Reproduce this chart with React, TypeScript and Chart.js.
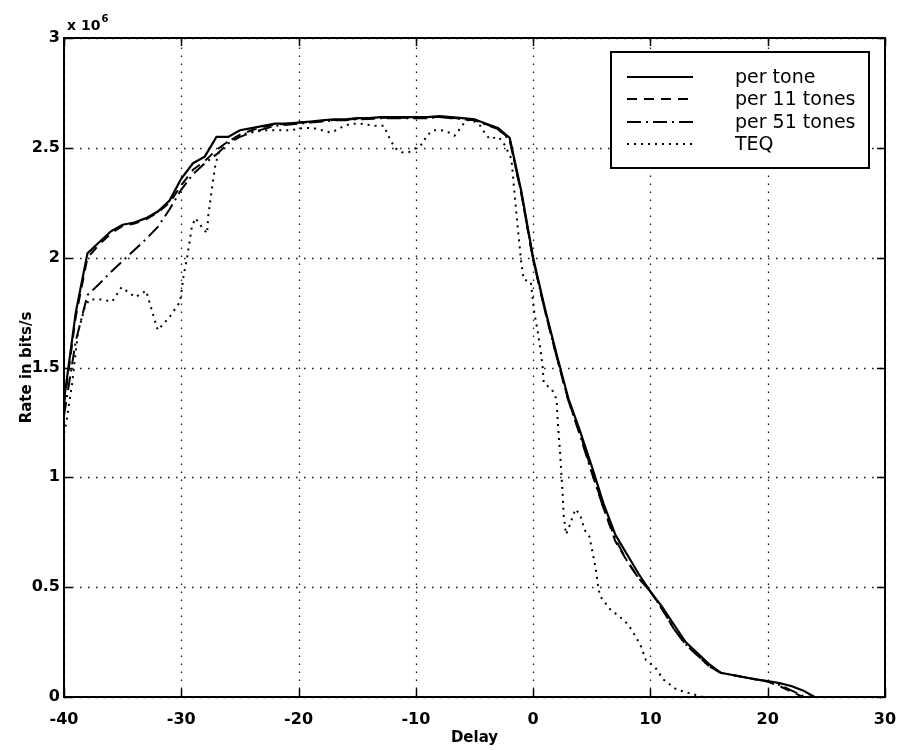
import React, { useEffect, useRef } from "react";
import { Chart, registerables } from "chart.js";

Chart.register(...registerables);

// ---- data (rates in units of 10^6 bits/s) ----
const delays = [
  -40, -39, -38, -37, -36, -35, -34, -33, -32, -31, -30, -29, -28, -27, -26, -25, -24, -23, -22, -21,
  -20, -19, -18, -17, -16, -15, -14, -13, -12, -11, -10, -9, -8, -7, -6, -5, -4, -3, -2, -1,
  0, 1, 2, 3, 4, 5, 6, 7, 8, 9, 10, 11, 12, 13, 14, 15, 16, 17, 18, 19,
  20, 21, 22, 23, 24, 25, 26, 27, 28, 29, 30,
];

const perTone = [
  1.35, 1.75, 2.02, 2.07, 2.12, 2.15, 2.16, 2.18, 2.21, 2.26, 2.36, 2.43, 2.46, 2.55, 2.55, 2.58, 2.59, 2.6, 2.61, 2.61,
  2.615, 2.62, 2.625, 2.63, 2.63, 2.635, 2.635, 2.64, 2.64, 2.64, 2.64, 2.64, 2.645, 2.64, 2.635, 2.63, 2.61, 2.59, 2.545, 2.3,
  2.0, 1.77, 1.56, 1.36, 1.21, 1.05, 0.88, 0.74, 0.65, 0.56, 0.48, 0.41, 0.33, 0.25, 0.2, 0.15, 0.11, 0.1, 0.09, 0.08,
  0.073, 0.063, 0.05, 0.03, 0, 0, 0, 0, 0, 0, 0,
];

const per11Tones = [
  1.33, 1.73, 2.0, 2.06, 2.11, 2.145, 2.155, 2.175, 2.205, 2.25, 2.33, 2.4, 2.44, 2.49, 2.53, 2.56, 2.58, 2.595, 2.605, 2.61,
  2.615, 2.617, 2.622, 2.627, 2.628, 2.632, 2.633, 2.637, 2.637, 2.637, 2.637, 2.637, 2.642, 2.637, 2.632, 2.627, 2.607, 2.587, 2.54, 2.29,
  1.99, 1.76, 1.55, 1.35, 1.2, 1.03, 0.86, 0.71, 0.62, 0.54, 0.48, 0.4, 0.31, 0.24, 0.19, 0.14, 0.11, 0.1, 0.09, 0.08,
  0.07, 0.05, 0.025, 0, 0, 0, 0, 0, 0, 0, 0,
];

const per51Tones = [
  1.28, 1.62, 1.83, 1.88, 1.935, 1.985, 2.035, 2.085, 2.14, 2.22, 2.31, 2.38, 2.43, 2.47, 2.52, 2.55, 2.57, 2.585, 2.6, 2.605,
  2.61, 2.615, 2.62, 2.625, 2.626, 2.63, 2.631, 2.635, 2.635, 2.635, 2.635, 2.635, 2.64, 2.635, 2.63, 2.625, 2.605, 2.585, 2.535, 2.29,
  1.99, 1.76, 1.55, 1.35, 1.19, 1.02, 0.86, 0.72, 0.62, 0.54, 0.48, 0.4, 0.31, 0.24, 0.19, 0.14, 0.11, 0.1, 0.09, 0.08,
  0.07, 0.055, 0.03, 0.005, 0, 0, 0, 0, 0, 0, 0,
];

const teqDelay = [
  -40, -39.8, -39.3, -38.8, -38.2, -37.8, -36.9, -35.9, -35.1, -33.9, -33.0, -32.4, -32.0, -31.0, -30.1, -29.8, -29.5, -29.1, -28.8, -28.4,
  -27.8, -27.7, -27.4, -27.1, -26.7, -26.0, -24.3, -22.7, -20.7, -19.6, -18.75, -18.0, -17.3, -16.8, -16.1, -15.5, -14.8, -14.1, -13.4, -12.7,
  -12.4, -12.1, -11.8, -11.2, -10.6, -9.95, -9.4, -9.1, -8.5, -7.8, -7.2, -6.7, -6.25, -5.8, -5.25, -4.5, -4.1, -3.7, -3.0, -2.6,
  -2.3, -1.85, -1.6, -1.3, -1.0, -0.8, -0.2, 0.1, 0.4, 0.6, 0.8, 0.9, 1.6, 2.0, 2.1, 2.3, 2.4, 2.5, 2.6, 2.8,
  3.1, 3.6, 4.0, 4.4, 4.8, 5.1, 5.35, 5.55, 5.7, 6.55, 7.5, 8.1, 8.8, 9.2, 9.6, 10.4, 11.1, 12.2, 13.6, 14.5,
  30,
];

const teqRate = [
  1.2, 1.25, 1.43, 1.66, 1.78, 1.81, 1.81, 1.8, 1.865, 1.82, 1.85, 1.74, 1.67, 1.73, 1.8, 1.92, 2.0, 2.14, 2.18, 2.15,
  2.11, 2.19, 2.31, 2.42, 2.5, 2.53, 2.57, 2.58, 2.58, 2.59, 2.59, 2.58, 2.57, 2.58, 2.6, 2.61, 2.61, 2.605, 2.6, 2.6,
  2.56, 2.53, 2.5, 2.48, 2.48, 2.5, 2.52, 2.555, 2.58, 2.58, 2.57, 2.555, 2.586, 2.62, 2.63, 2.6, 2.565, 2.54, 2.55, 2.53,
  2.5, 2.45, 2.3, 2.13, 1.97, 1.9, 1.89, 1.75, 1.66, 1.59, 1.51, 1.43, 1.4, 1.355, 1.25, 1.11, 1.02, 0.94, 0.83, 0.74,
  0.78, 0.855, 0.83, 0.76, 0.73, 0.65, 0.58, 0.5, 0.46, 0.4, 0.36, 0.33, 0.27, 0.23, 0.17, 0.135, 0.08, 0.035, 0.013, 0,
  0,
];

const xTicks = [-40, -30, -20, -10, 0, 10, 20, 30];
const yTicks = [0, 0.5, 1, 1.5, 2, 2.5, 3];
const yTickLabels = ["0", "0.5", "1", "1.5", "2", "2.5", "3"];
const seriesNames = ["per tone", "per 11 tones", "per 51 tones", "TEQ"];
const seriesDashes: number[][] = [[], [10, 7], [14, 5, 2, 5], [2, 5]];
const xTitle = "Delay";
const yTitle = "Rate in bits/s";

const FONT = "'DejaVu Sans', 'Liberation Sans', sans-serif";

const decorPlugin = {
  id: "decor",
  beforeDatasetsDraw(chart: any) {
    const { ctx, chartArea: a, scales } = chart;
    const xs = scales.x;
    const ys = scales.y;
    ctx.save();
    ctx.strokeStyle = "#1a1a1a";
    ctx.lineWidth = 1.3;
    ctx.setLineDash([1.6, 6.4]);
    for (const v of xTicks) {
      const px = Math.round(xs.getPixelForValue(v)) + 0.5;
      ctx.beginPath();
      ctx.moveTo(px, a.bottom);
      ctx.lineTo(px, a.top);
      ctx.stroke();
    }
    for (const v of yTicks) {
      const py = Math.round(ys.getPixelForValue(v)) + 0.5;
      ctx.beginPath();
      ctx.moveTo(a.left, py);
      ctx.lineTo(a.right, py);
      ctx.stroke();
    }
    ctx.restore();
  },
  afterDatasetsDraw(chart: any) {
    const { ctx, chartArea: a, scales } = chart;
    const xs = scales.x;
    const ys = scales.y;
    ctx.save();
    ctx.setLineDash([]);
    ctx.strokeStyle = "#000";
    ctx.lineWidth = 2;
    ctx.strokeRect(a.left, a.top, a.right - a.left, a.bottom - a.top);
    // inner tick marks
    ctx.lineWidth = 1.5;
    const tl = 8;
    for (const v of xTicks) {
      const px = Math.round(xs.getPixelForValue(v)) + 0.5;
      ctx.beginPath();
      ctx.moveTo(px, a.bottom);
      ctx.lineTo(px, a.bottom - tl);
      ctx.moveTo(px, a.top);
      ctx.lineTo(px, a.top + tl);
      ctx.stroke();
    }
    for (const v of yTicks) {
      const py = Math.round(ys.getPixelForValue(v)) + 0.5;
      ctx.beginPath();
      ctx.moveTo(a.left, py);
      ctx.lineTo(a.left + tl, py);
      ctx.moveTo(a.right, py);
      ctx.lineTo(a.right - tl, py);
      ctx.stroke();
    }

    // legend
    const bw = 258;
    const bh = 116;
    const bx = a.right - 274;
    const by = a.top + 14;
    ctx.fillStyle = "#fff";
    ctx.fillRect(bx, by, bw, bh);
    ctx.lineWidth = 2;
    ctx.strokeStyle = "#000";
    ctx.strokeRect(bx, by, bw, bh);
    const rows = [25, 47, 70, 92];
    ctx.font = `19px ${FONT}`;
    ctx.fillStyle = "#000";
    ctx.textAlign = "left";
    ctx.textBaseline = "middle";
    seriesNames.forEach((name, i) => {
      const y = by + rows[i];
      ctx.setLineDash(seriesDashes[i]);
      ctx.lineWidth = 2;
      ctx.beginPath();
      ctx.moveTo(bx + 16, y);
      ctx.lineTo(bx + 82, y);
      ctx.stroke();
      ctx.setLineDash([]);
      ctx.fillText(name, bx + 124, y + 1);
    });

    // exponent label
    ctx.textBaseline = "alphabetic";
    ctx.font = `bold 14px ${FONT}`;
    ctx.fillText("x 10", a.left + 3, a.top - 8);
    const w = ctx.measureText("x 10").width;
    ctx.font = `bold 10px ${FONT}`;
    ctx.fillText("6", a.left + 4 + w, a.top - 16);

    // axis titles
    ctx.font = `bold 15px ${FONT}`;
    ctx.textAlign = "center";
    ctx.textBaseline = "middle";
    ctx.fillText(xTitle, (a.left + a.right) / 2, a.bottom + 41);
    ctx.save();
    ctx.translate(27, (a.top + a.bottom) / 2);
    ctx.rotate(-Math.PI / 2);
    ctx.fillText(yTitle, 0, 0);
    ctx.restore();
    ctx.restore();
  },
};

export default function App() {
  const ref = useRef<HTMLCanvasElement | null>(null);

  useEffect(() => {
    if (!ref.current) return;
    const mk = (ys: number[]) => delays.map((x, i) => ({ x, y: ys[i] }));
    const teqPts = teqDelay.map((x, i) => ({ x, y: teqRate[i] }));
    const allData = [mk(perTone), mk(per11Tones), mk(per51Tones), teqPts];
    const chart = new Chart(ref.current, {
      type: "line",
      data: {
        datasets: allData.map((d, i) => ({
          label: seriesNames[i],
          data: d,
          borderColor: "#000",
          backgroundColor: "#000",
          borderWidth: i === 0 ? 2.2 : 2,
          borderDash: seriesDashes[i],
          pointRadius: 0,
          tension: 0,
          fill: false,
          clip: false as any,
        })),
      },
      options: {
        responsive: false,
        animation: false,
        devicePixelRatio: 1,
        layout: { padding: { left: 8, top: 38, right: 14, bottom: 0 } },
        plugins: { legend: { display: false }, tooltip: { enabled: false } },
        scales: {
          x: {
            type: "linear",
            min: -40,
            max: 30,
            afterBuildTicks: (s: any) => {
              s.ticks = xTicks.map((v) => ({ value: v }));
            },
            afterFit: (s: any) => {
              s.height = 53;
              s.paddingLeft = 0;
              s.paddingRight = 0;
            },
            grid: { display: false, drawTicks: false },
            border: { display: false },
            ticks: {
              padding: 13,
              color: "#000",
              font: { family: FONT, size: 16, weight: "bold" },
              maxRotation: 0,
              callback: (v: any) => String(v),
            },
          },
          y: {
            type: "linear",
            min: 0,
            max: 3,
            afterBuildTicks: (s: any) => {
              s.ticks = yTicks.map((v) => ({ value: v }));
            },
            afterFit: (s: any) => {
              s.width = 56;
              s.paddingTop = 0;
              s.paddingBottom = 0;
            },
            grid: { display: false, drawTicks: false },
            border: { display: false },
            ticks: {
              padding: 4,
              color: "#000",
              font: { family: FONT, size: 16, weight: "bold" },
              callback: (v: any) => {
                const idx = yTicks.indexOf(Number(v));
                return idx >= 0 ? yTickLabels[idx] : "";
              },
            },
          },
        },
      },
      plugins: [decorPlugin],
    });
    return () => chart.destroy();
  }, []);

  return (
    <div style={{ position: "absolute", left: 0, top: 0, width: 899, height: 750, background: "#fff" }}>
      <canvas ref={ref} width={899} height={750} style={{ display: "block", width: 899, height: 750 }} />
    </div>
  );
}
